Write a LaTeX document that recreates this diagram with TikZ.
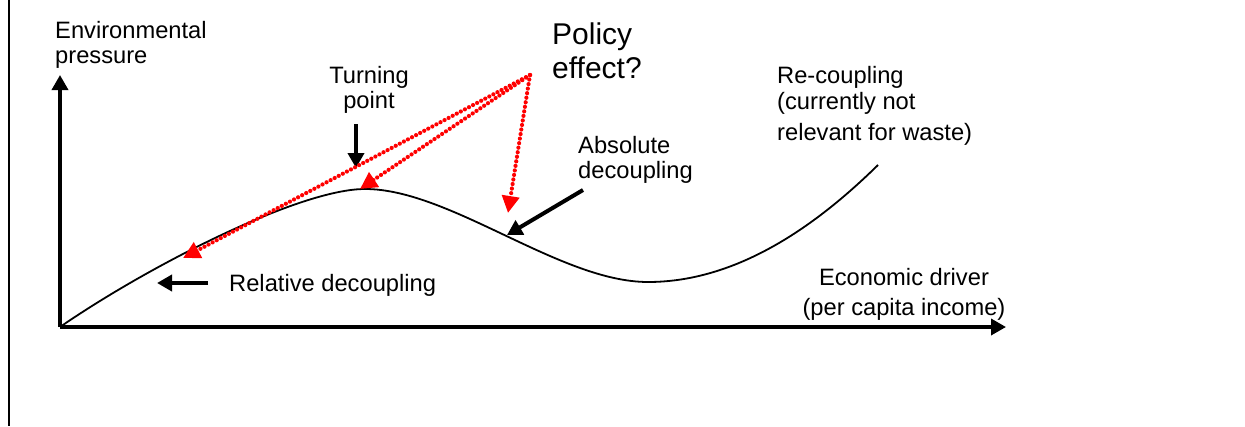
\documentclass[tikz,border=0pt]{standalone}
\usepackage{fontspec}
\setmainfont{Liberation Sans}
\usetikzlibrary{arrows.meta}
\begin{document}
\begin{tikzpicture}[x=1pt,y=-1pt,
  lbl/.style={inner sep=0pt, font=\fontsize{23.7}{25}\selectfont, align=left},
  axisline/.style={line width=3.5pt, -{Triangle[length=15pt,width=16pt]}},
  blackarrow/.style={line width=4pt, -{Triangle[length=15pt,width=16pt]}},
  redarrow/.style={red, line width=4.2pt, line cap=round, dash pattern=on 0pt off 4.6pt, -{Triangle[length=17pt,width=17pt]}},
  curveline/.style={line width=1.8pt}]
\useasboundingbox (0,0) rectangle (1245,426);
% frame line at the left
\coordinate (bt) at (9,0);
\coordinate (bb) at (9,426);
\draw[line width=2pt] (bt) -- (bb);
% axes
\coordinate (o) at (60,327);
\coordinate (ytip) at (60,75);
\coordinate (xtip) at (1006,327);
\draw[axisline] (o) -- (ytip);
\draw[axisline] (o) -- (xtip);
% curve
\draw[curveline] (o) .. controls (150,265) and (300,189) .. (365,189)
  .. controls (450,189) and (560,282) .. (648,282)
  .. controls (740,282) and (820,222) .. (878,165);
% labels
\node[lbl, anchor=north west] (env) at (55,21) {Environmental\\pressure};
\node[lbl, anchor=north, align=center] (turn) at (369,66) {Turning\\point};
\node[lbl, anchor=north west, font=\fontsize{30}{34}\selectfont] (policy) at (552,22.5) {Policy\\effect?};
\node[lbl, anchor=north west] (abs) at (578,136) {Absolute\\decoupling};
\node[lbl, anchor=north west] (rel) at (229,274) {Relative decoupling};
\node[lbl, anchor=north west, font=\fontsize{23.7}{26}\selectfont] (recoup) at (777,66) {Re-coupling\\(currently not\\[5pt]relevant for waste)};
\node[lbl, anchor=north, align=center, font=\fontsize{23.7}{30}\selectfont] (econ) at (904,268) {Economic driver\\(per capita income)};
% black arrows
\coordinate (turnA) at (356,124);
\coordinate (turnB) at (356,168);
\draw[blackarrow] (turnA) -- (turnB);
\coordinate (relA) at (208,283);
\coordinate (relB) at (157,283);
\draw[blackarrow] (relA) -- (relB);
\coordinate (absA) at (583,190);
\coordinate (absB) at (507,235);
\draw[blackarrow] (absA) -- (absB);
% red dotted arrows
\coordinate (src) at (530,75);
\coordinate (r1) at (183,258);
\coordinate (r2) at (360,189);
\coordinate (r3) at (508,213);
\draw[redarrow] (src) -- (r1);
\draw[redarrow] (src) -- (r2);
\draw[redarrow] (src) -- (r3);
\end{tikzpicture}
\end{document}
